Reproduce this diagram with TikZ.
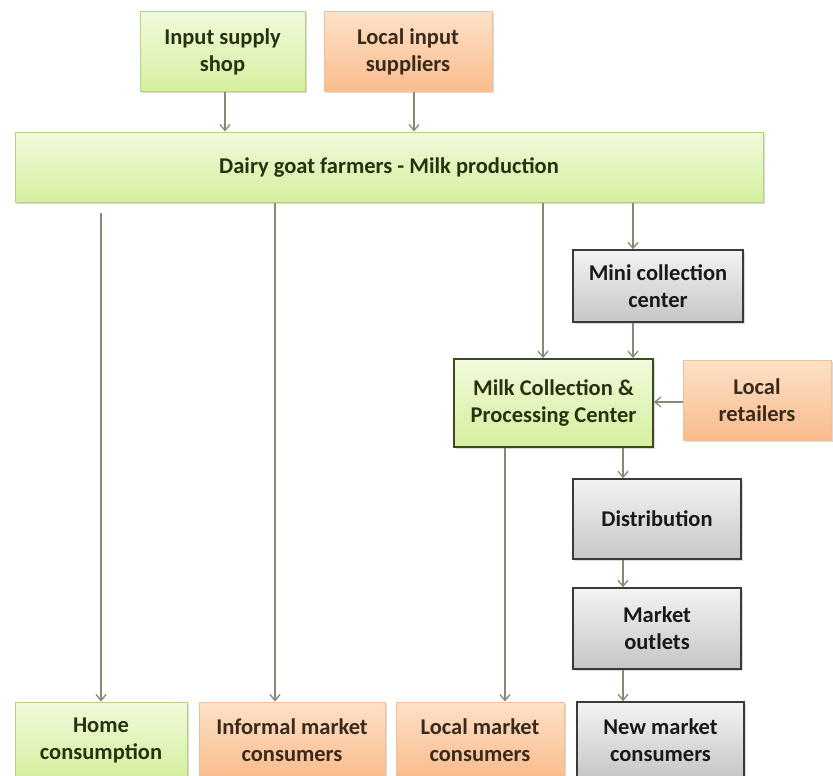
\documentclass[tikz,border=0pt]{standalone}
\usepackage{fontspec}
\setmainfont{Carlito}
\usetikzlibrary{arrows.meta,shadows}

\definecolor{grnTop}{HTML}{F1FADB}
\definecolor{grnBot}{HTML}{D5EF9E}
\definecolor{grnLine}{HTML}{B7CF86}
\definecolor{grnDark}{HTML}{3E4B22}
\definecolor{orTop}{HTML}{FDE1C8}
\definecolor{orBot}{HTML}{F9BC8C}
\definecolor{orLine}{HTML}{F1BF98}
\definecolor{gyTop}{HTML}{F3F3F3}
\definecolor{gyBot}{HTML}{C6C6C6}
\definecolor{gyLine}{HTML}{3A3A3A}
\definecolor{arrCol}{HTML}{838C72}
\definecolor{txtGrn}{HTML}{26330F}
\definecolor{txtOr}{HTML}{3A2A1C}

\tikzset{
  box/.style={rectangle, align=center, font=\fontsize{22.5}{27}\selectfont\bfseries,
    inner sep=2pt, drop shadow={shadow xshift=1.5pt, shadow yshift=-1.5pt, opacity=0.3}},
  greenbox/.style={box, top color=grnTop, bottom color=grnBot, draw=grnLine, line width=1pt, text=txtGrn},
  greenstrong/.style={box, top color=grnTop, bottom color=grnBot, draw=grnDark, line width=1.8pt, text=txtGrn},
  orangebox/.style={box, top color=orTop, bottom color=orBot, draw=orLine, line width=1pt, text=txtOr},
  graybox/.style={box, top color=gyTop, bottom color=gyBot, draw=gyLine, line width=1.5pt, text=black!90},
  flow/.style={draw=arrCol, line width=1.3pt, -{Straight Barb[length=6pt,width=10pt,line width=1.3pt]}},
}

\begin{document}
\begin{tikzpicture}[x=1pt,y=-1pt]
\useasboundingbox (0,0) rectangle (833,776);
\clip (0,0) rectangle (833,776);

% top suppliers
\node[greenbox, minimum width=165pt, minimum height=80pt] (iss) at (222.5,52) {Input supply\\shop};
\node[orangebox, minimum width=168pt, minimum height=80pt] (lis) at (408,52) {Local input\\suppliers};

% producers
\node[greenbox, minimum width=748pt, minimum height=70pt] (dairy) at (389,167) {Dairy goat farmers - Milk production};

% collection chain
\node[graybox, minimum width=170pt, minimum height=72pt] (mini) at (658,286) {Mini collection\\center};
\node[greenstrong, minimum width=199pt, minimum height=88pt] (mcpc) at (553.5,403) {Milk Collection \&\\Processing Center};
\node[orangebox, minimum width=148pt, minimum height=80pt] (ret) at (757,400) {Local\\retailers};
\node[graybox, minimum width=168pt, minimum height=80pt] (dist) at (657,519) {Distribution};
\node[graybox, minimum width=168pt, minimum height=81pt] (outl) at (657,628.5) {Market\\outlets};

% consumers (bottom row)
\node[greenbox, minimum width=172pt, minimum height=76pt] (home) at (101,740) {Home\\consumption};
\node[orangebox, minimum width=186pt, minimum height=76pt] (inf) at (292,740) {Informal market\\consumers};
\node[orangebox, minimum width=168pt, minimum height=76pt] (lmc) at (480,740) {Local market\\consumers};
\node[graybox, minimum width=167pt, minimum height=76pt] (nmc) at (660.5,740) {New market\\consumers};

% connectors
\draw[flow] ([xshift=2.5pt]iss.south) -- ([xshift=2.5pt]iss.south |- dairy.north);
\draw[flow] ([xshift=6pt]lis.south) -- ([xshift=6pt]lis.south |- dairy.north);

\draw[flow] ([yshift=-10pt]home.north |- dairy.south) -- (home.north);
\draw[flow] ([xshift=-17pt]inf.north |- dairy.south) -- ([xshift=-17pt]inf.north);
\draw[flow] ([xshift=-10.5pt]mcpc.north |- dairy.south) -- ([xshift=-10.5pt]mcpc.north);
\draw[flow] ([xshift=-25pt]mini.north |- dairy.south) -- ([xshift=-25pt]mini.north);
\draw[flow] ([xshift=-25pt]mini.south) -- ([xshift=-25pt]mini.south |- mcpc.north);
\draw[flow] (ret.west |- 0,402) -- (mcpc.east |- 0,402);
\draw[flow] ([xshift=25pt]lmc.north |- mcpc.south) -- ([xshift=25pt]lmc.north);
\draw[flow] ([xshift=-34pt]dist.north |- mcpc.south) -- ([xshift=-34pt]dist.north);
\draw[flow] ([xshift=-34pt]dist.south) -- ([xshift=-34pt]outl.north);
\draw[flow] ([xshift=-34pt]outl.south) -- ([xshift=-34pt]outl.south |- nmc.north);
\end{tikzpicture}
\end{document}
